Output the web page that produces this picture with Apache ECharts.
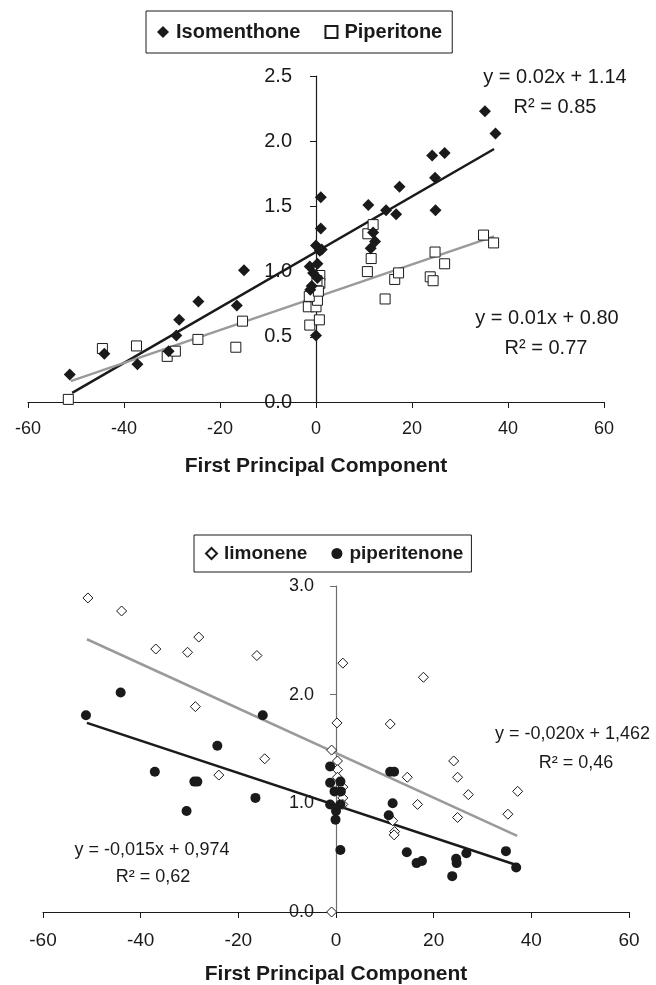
<!DOCTYPE html>
<html>
<head>
<meta charset="utf-8">
<script src="https://cdn.jsdelivr.net/npm/echarts@6/dist/echarts.min.js"></script>
<style>
html,body{margin:0;padding:0;background:#fff;}
#chart{width:656px;height:985px;}
</style>
</head>
<body>
<div id="chart"></div>
<script>
// values: [first principal component, value]
var isomenthone = [[-51.3,0.21],[-44.1,0.37],[-37.2,0.29],[-30.7,0.39],[-29.1,0.51],[-28.5,0.63],[-24.5,0.77],[-16.5,0.74],[-15.0,1.01],
	[-1.3,1.04],[-1.2,0.86],[-0.9,0.89],[-0.6,0.99],[0.0,1.20],[0.3,1.06],[0.8,1.16],[1.2,1.17],[1.0,1.33],[1.0,1.57],[0.0,0.51],[0.3,0.95],
	[10.9,1.51],[11.4,1.18],[11.9,1.30],[12.3,1.23],[14.6,1.47],[16.7,1.44],[17.4,1.65],[24.2,1.89],[24.8,1.72],[24.9,1.47],[26.8,1.91],[35.2,2.23],[37.4,2.06]];
var piperitone = [[-51.6,0.02],[-44.5,0.41],[-37.4,0.43],[-31.0,0.35],[-29.3,0.39],[-24.6,0.48],[-16.7,0.42],[-15.3,0.62],
	[-1.3,0.59],[0.7,0.63],[-1.6,0.73],[0.0,0.73],[0.3,0.78],[-1.4,0.81],[0.8,0.97],[0.8,0.91],[0.2,0.93],[0.5,0.85],
	[10.8,1.29],[11.9,1.36],[11.5,1.10],[10.7,1.00],[14.4,0.79],[16.4,0.94],[17.2,0.99],[23.8,0.96],[24.4,0.93],[24.8,1.15],[26.8,1.06],[34.9,1.28],[37.0,1.22]];
var limonene = [[-50.8,2.89],[-43.9,2.77],[-36.9,2.42],[-30.4,2.39],[-28.1,2.53],[-28.8,1.89],[-16.2,2.36],[-14.6,1.41],[-24.0,1.26],
	[-0.9,1.49],[-0.9,0.0],[0.2,1.74],[1.4,2.29],[0.3,1.39],[0.3,1.31],[0.3,1.24],[1.4,1.15],[1.4,1.05],[1.4,0.99],
	[11.1,1.73],[17.9,2.16],[14.6,1.24],[16.7,0.99],[11.6,0.84],[12.0,0.74],[11.9,0.71],[24.1,1.39],[24.9,1.24],[27.1,1.08],[24.9,0.87],[35.2,0.90],[37.2,1.11]];
var piperitenone = [[-51.2,1.81],[-44.1,2.02],[-37.1,1.29],[-30.6,0.93],[-29.0,1.20],[-28.4,1.20],[-24.3,1.53],[-16.5,1.05],[-15.0,1.81],
	[-1.2,1.34],[-1.2,1.19],[0.9,1.20],[-0.3,1.11],[1.0,1.11],[-1.2,0.99],[0.9,0.99],[0.0,0.93],[-0.1,0.85],[0.9,0.57],
	[11.1,1.29],[11.9,1.29],[11.6,1.00],[10.8,0.89],[14.5,0.55],[16.5,0.45],[17.6,0.47],[23.8,0.33],[24.6,0.49],[24.7,0.45],[26.7,0.54],[34.8,0.56],[36.9,0.41]];

// trend line end points
var isoTrend = [[-50.8,0.07],[37.1,1.94]];
var pipTrend = [[-51.1,0.16],[37.1,1.27]];
var limTrend = [[-51.0,2.51],[37.1,0.70]];
var pitTrend = [[-51.0,1.74],[37.1,0.43]];

var xTitle = 'First Principal Component';
var eqText = ['y = 0.02x + 1.14','R² = 0.85','y = 0.01x + 0.80','R² = 0.77',
	'y = -0,015x + 0,974','R² = 0,62','y = -0,020x + 1,462','R² = 0,46'];

var FONT = 'Liberation Sans, Arial, sans-serif';
var INK = '#1a1a1a';

function xAx(idx, size, margin) {
	return {
		type: 'value', gridIndex: idx, min: -60, max: 60, interval: 20,
		splitLine: {show: false},
		axisLine: {onZero: false, lineStyle: {color: INK, width: 1.2}},
		axisTick: {length: 6, lineStyle: {color: INK}},
		axisLabel: {color: INK, fontFamily: FONT, fontSize: size, margin: margin},
		name: xTitle, nameLocation: 'middle', nameGap: idx ? 52 : 54,
		nameTextStyle: {color: INK, fontFamily: FONT, fontSize: 21, fontWeight: 'bold'}
	};
}
// the y axis sits at x = 0, i.e. half the grid width to the right of the left edge
function yAx(idx, max, step, size, margin, col, off) {
	return {
		type: 'value', gridIndex: idx, min: 0, max: max, interval: step,
		position: 'left', offset: off,
		splitLine: {show: false},
		axisLine: {onZero: false, lineStyle: {color: col, width: 1.2}},
		axisTick: {length: 6, lineStyle: {color: col}},
		axisLabel: {color: INK, fontFamily: FONT, fontSize: size, margin: margin,
			formatter: function(v){ return v.toFixed(1); }}
	};
}
function txt(s, x, y, size, align) {
	return {type: 'text', x: x, y: y, style: {text: s, fill: INK, font: size + 'px ' + FONT,
		align: align || 'center', verticalAlign: 'middle'}};
}

var option = {
	animation: false,
	backgroundColor: '#fff',
	grid: [
		{left: 28, right: 52, top: 76, bottom: 583, outerBoundsMode: 'none', containLabel: false},
		{left: 43, right: 27, top: 586, bottom: 73, outerBoundsMode: 'none', containLabel: false}
	],
	xAxis: [xAx(0, 18, 18), xAx(1, 19, 19)],
	yAxis: [yAx(0, 2.5, 0.5, 20, 24, INK, -288), yAx(1, 3, 1, 18, 22, '#6e6e6e', -293)],
	legend: [
		{data: ['Isomenthone','Piperitone'], left: 146, top: 11, padding: [11, 10, 11, 11],
			borderColor: INK, borderWidth: 1, itemGap: 24, itemWidth: 12, itemHeight: 12,
			textStyle: {color: INK, fontFamily: FONT, fontSize: 20, fontWeight: 'bold', padding: [0,0,0,2]}},
		{data: ['limonene','piperitenone'], left: 194, top: 535, padding: [9, 8, 9, 11],
			borderColor: INK, borderWidth: 1, itemGap: 24, itemWidth: 11, itemHeight: 11,
			textStyle: {color: INK, fontFamily: FONT, fontSize: 19, fontWeight: 'bold', padding: [0,0,0,2]}}
	],
	graphic: [
		txt(eqText[0], 555, 77, 20), txt(eqText[1], 555, 107, 20),
		txt(eqText[2], 547, 318, 20), txt(eqText[3], 546, 348, 20),
		txt(eqText[4], 152, 850, 18), txt(eqText[5], 153, 877, 18),
		txt(eqText[6], 495, 734, 18, 'left'), txt(eqText[7], 576, 763, 18)
	],
	series: [
		{type: 'line', xAxisIndex: 0, yAxisIndex: 0, data: isoTrend, symbol: 'none', lineStyle: {color: INK, width: 2.5}, z: 1},
		{type: 'line', xAxisIndex: 0, yAxisIndex: 0, data: pipTrend, symbol: 'none', lineStyle: {color: '#9a9a9a', width: 2.5}, z: 1},
		{name: 'Isomenthone', type: 'scatter', xAxisIndex: 0, yAxisIndex: 0, data: isomenthone,
			symbol: 'diamond', symbolSize: 12, itemStyle: {color: INK, opacity: 1}, z: 3},
		{name: 'Piperitone', type: 'scatter', xAxisIndex: 0, yAxisIndex: 0, data: piperitone,
			symbol: 'rect', symbolSize: 10, itemStyle: {color: '#fff', borderColor: INK, borderWidth: 1, opacity: 1}, z: 2},

		{type: 'line', xAxisIndex: 1, yAxisIndex: 1, data: limTrend, symbol: 'none', lineStyle: {color: '#9a9a9a', width: 2.5}, z: 1},
		{type: 'line', xAxisIndex: 1, yAxisIndex: 1, data: pitTrend, symbol: 'none', lineStyle: {color: INK, width: 2.5}, z: 1},
		{name: 'limonene', type: 'scatter', xAxisIndex: 1, yAxisIndex: 1, data: limonene,
			symbol: 'diamond', symbolSize: 10, itemStyle: {color: '#fff', borderColor: INK, borderWidth: 1, opacity: 1}, z: 2},
		{name: 'piperitenone', type: 'scatter', xAxisIndex: 1, yAxisIndex: 1, data: piperitenone,
			symbol: 'circle', symbolSize: 10, itemStyle: {color: INK, opacity: 1}, z: 3}
	]
};

var myChart = echarts.init(document.getElementById('chart'));
myChart.setOption(option);
</script>
</body>
</html>
